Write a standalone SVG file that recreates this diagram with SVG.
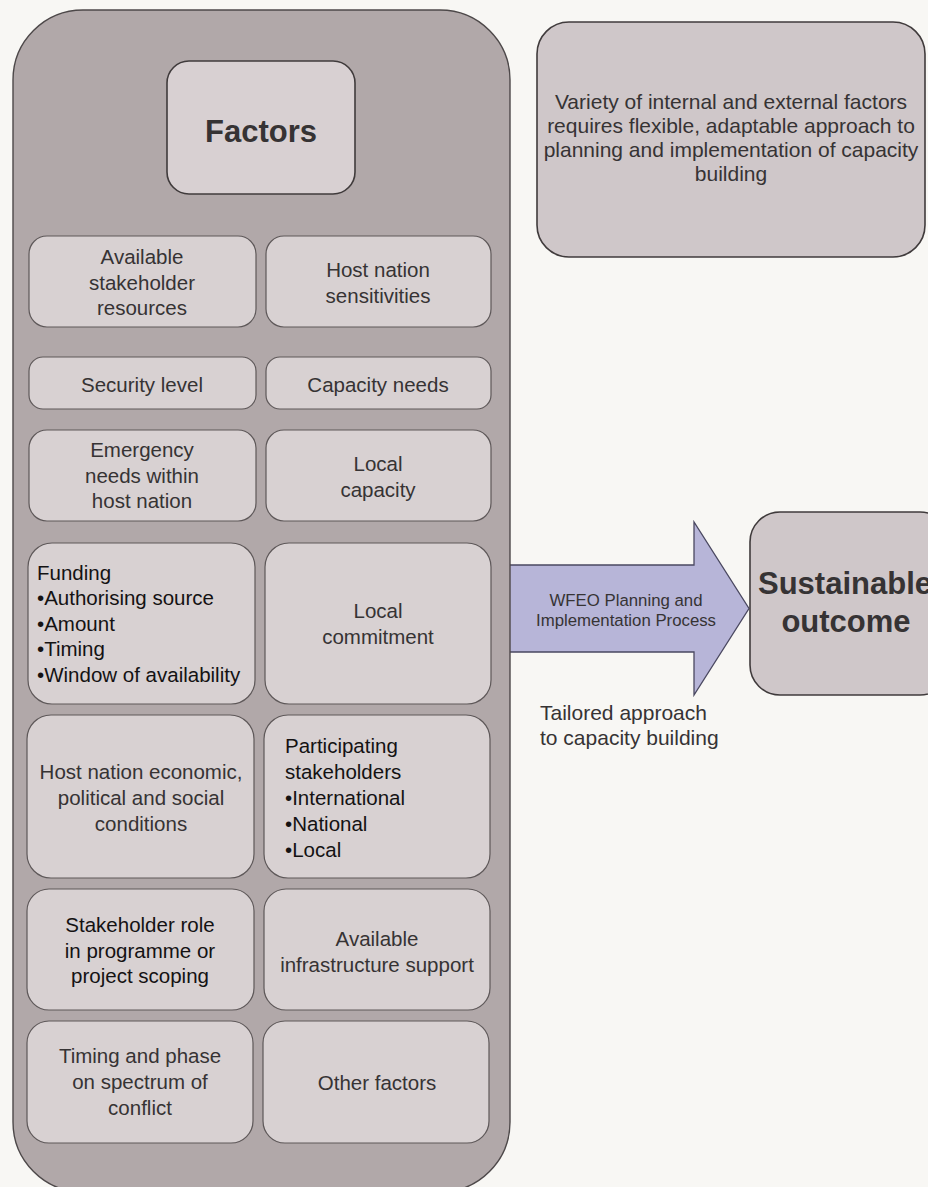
<svg xmlns="http://www.w3.org/2000/svg" width="928" height="1187" viewBox="0 0 928 1187">
  <style>
    .panel { fill: #b1a8a9; stroke: #4d4849; stroke-width: 1.4; }
    .cell { fill: #d8d1d2; stroke: #5e5859; stroke-width: 1.2; }
    .box { fill: #cfc7c9; stroke: #403b3c; stroke-width: 1.6; }
    .t { font-family: "Liberation Sans", Arial, sans-serif; font-size: 20.5px; fill: #363334; }
    .c { text-anchor: middle; }
    .dark { fill: #141213; }
    .title { font-family: "Liberation Sans", Arial, sans-serif; font-weight: bold; font-size: 31px; fill: #363334; text-anchor: middle; }
    .note { font-family: "Liberation Sans", Arial, sans-serif; font-size: 21px; fill: #363334; text-anchor: middle; }
    .arrowtxt { font-family: "Liberation Sans", Arial, sans-serif; font-size: 16.8px; fill: #363334; text-anchor: middle; }
  </style>

  <rect width="928" height="1187" fill="#f8f7f4"/>

  <!-- process arrow -->
  <g id="connectors">
    <path d="M505,565 L694,565 L694,522 L749,608.5 L694,695 L694,652 L505,652 Z" fill="#b7b5d8" stroke="#4a4860" stroke-width="1.3"/>
    <text class="arrowtxt" x="626" y="606">WFEO Planning and</text>
    <text class="arrowtxt" x="626" y="626">Implementation Process</text>
  </g>

  <!-- factors panel -->
  <g id="factors-panel">
    <rect class="panel" x="13" y="10" width="497" height="1182" rx="70" ry="70"/>
  </g>

  <g id="factors-title">
    <rect class="box" x="167" y="61" width="188" height="133" rx="22" ry="22" style="fill:#d8d0d2"/>
    <text class="title" x="261" y="142">Factors</text>
  </g>

  <!-- row 1 -->
  <g id="available-resources">
    <rect class="cell" x="29" y="236" width="227" height="91" rx="18"/>
    <text class="t c" x="142" y="264">Available</text>
    <text class="t c" x="142" y="290">stakeholder</text>
    <text class="t c" x="142" y="315">resources</text>
  </g>
  <g id="host-sensitivities">
    <rect class="cell" x="266" y="236" width="225" height="91" rx="18"/>
    <text class="t c" x="378" y="277">Host nation</text>
    <text class="t c" x="378" y="303">sensitivities</text>
  </g>

  <!-- row 2 -->
  <g id="security-level">
    <rect class="cell" x="29" y="357" width="227" height="52" rx="14"/>
    <text class="t c" x="142" y="392">Security level</text>
  </g>
  <g id="capacity-needs">
    <rect class="cell" x="266" y="357" width="225" height="52" rx="14"/>
    <text class="t c" x="378" y="392">Capacity needs</text>
  </g>

  <!-- row 3 -->
  <g id="emergency-needs">
    <rect class="cell" x="29" y="430" width="227" height="91" rx="18"/>
    <text class="t c" x="142" y="457">Emergency</text>
    <text class="t c" x="142" y="483">needs within</text>
    <text class="t c" x="142" y="508">host nation</text>
  </g>
  <g id="local-capacity">
    <rect class="cell" x="266" y="430" width="225" height="91" rx="18"/>
    <text class="t c" x="378" y="471">Local</text>
    <text class="t c" x="378" y="497">capacity</text>
  </g>

  <!-- row 4 -->
  <g id="funding">
    <rect class="cell" x="28" y="543" width="227" height="161" rx="24"/>
    <text class="t dark" x="37" y="580">Funding</text>
    <text class="t dark" x="37" y="605">•Authorising source</text>
    <text class="t dark" x="37" y="631">•Amount</text>
    <text class="t dark" x="37" y="656">•Timing</text>
    <text class="t dark" x="37" y="682">•Window of availability</text>
  </g>
  <g id="local-commitment">
    <rect class="cell" x="265" y="543" width="226" height="161" rx="24"/>
    <text class="t c" x="378" y="618">Local</text>
    <text class="t c" x="378" y="644">commitment</text>
  </g>

  <!-- row 5 -->
  <g id="host-conditions">
    <rect class="cell" x="27" y="715" width="227" height="163" rx="24"/>
    <text class="t c" x="141" y="779">Host nation economic,</text>
    <text class="t c" x="141" y="805">political and social</text>
    <text class="t c" x="141" y="831">conditions</text>
  </g>
  <g id="participating-stakeholders">
    <rect class="cell" x="264" y="715" width="226" height="163" rx="24"/>
    <text class="t dark" x="285" y="753">Participating</text>
    <text class="t dark" x="285" y="779">stakeholders</text>
    <text class="t dark" x="285" y="805">•International</text>
    <text class="t dark" x="285" y="831">•National</text>
    <text class="t dark" x="285" y="857">•Local</text>
  </g>

  <!-- row 6 -->
  <g id="stakeholder-role">
    <rect class="cell" x="27" y="889" width="227" height="121" rx="22"/>
    <text class="t c dark" x="140" y="932">Stakeholder role</text>
    <text class="t c dark" x="140" y="958">in programme or</text>
    <text class="t c dark" x="140" y="983">project scoping</text>
  </g>
  <g id="infrastructure-support">
    <rect class="cell" x="264" y="889" width="226" height="121" rx="22"/>
    <text class="t c" x="377" y="946">Available</text>
    <text class="t c" x="377" y="972">infrastructure support</text>
  </g>

  <!-- row 7 -->
  <g id="timing-phase">
    <rect class="cell" x="27" y="1021" width="226" height="122" rx="22"/>
    <text class="t c" x="140" y="1063">Timing and phase</text>
    <text class="t c" x="140" y="1089">on spectrum of</text>
    <text class="t c" x="140" y="1115">conflict</text>
  </g>
  <g id="other-factors">
    <rect class="cell" x="263" y="1021" width="226" height="122" rx="22"/>
    <text class="t c" x="377" y="1090">Other factors</text>
  </g>

  <!-- explanatory note -->
  <g id="variety-note">
    <rect class="box" x="537" y="22" width="388" height="235" rx="32" ry="32"/>
    <text class="note" x="731" y="109">Variety of internal and external factors</text>
    <text class="note" x="731" y="133">requires flexible, adaptable approach to</text>
    <text class="note" x="731" y="157">planning and implementation of capacity</text>
    <text class="note" x="731" y="181">building</text>
  </g>

  <!-- outcome box, running off the right edge -->
  <g id="sustainable-outcome">
    <rect class="box" x="750" y="512" width="200" height="183" rx="30" ry="30"/>
    <text class="title" x="845" y="594">Sustainable</text>
    <text class="title" x="846" y="632">outcome</text>
  </g>

  <g id="tailored-label">
    <text class="t" x="540" y="720" style="font-size:21px">Tailored approach</text>
    <text class="t" x="540" y="745" style="font-size:21px">to capacity building</text>
  </g>
</svg>
